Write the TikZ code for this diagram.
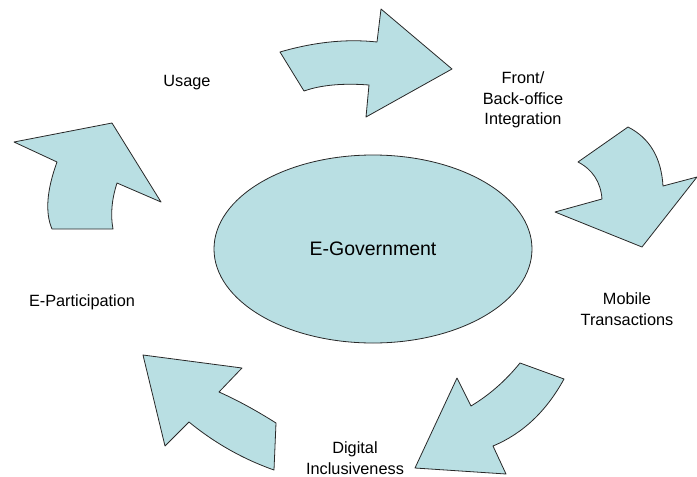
\documentclass[tikz,border=0pt]{standalone}
\usepackage{fontspec}
\setmainfont{Liberation Sans}
\usetikzlibrary{shapes.geometric}
\definecolor{shapefill}{RGB}{185,223,227}
\definecolor{shapeline}{RGB}{40,40,40}
\tikzset{
  bigarrow/.style={fill=shapefill, draw=shapeline, line width=0.8pt, line join=round},
  label/.style={align=center, font=\fontsize{16.3}{20.5}\selectfont, text=black, inner sep=0pt},
}
\begin{document}
\begin{tikzpicture}[x=1pt,y=-1pt]
\useasboundingbox (0,0) rectangle (697,477);
% central ellipse
\node[ellipse, fill=shapefill, draw=shapeline, line width=0.8pt,
      minimum width=318pt, minimum height=188pt, inner sep=0pt,
      font=\fontsize{19.5}{23}\selectfont] (center) at (373,249) {E-Government};
% Usage arrow (up-right)
\draw[bigarrow] (14,142) -- (112,123) -- (161,202) -- (117,183)
  .. controls (111.67,199.67) and (110.33,215) .. (113,229) -- (52,229)
  .. controls (45,212.67) and (46.67,190.33) .. (57,162) -- cycle;
% top arrow (right)
\draw[bigarrow] (280,52) .. controls (314.33,42) and (346.67,38.67) .. (377,42)
  -- (381,9) -- (452,69) -- (366,117) -- (369,85)
  .. controls (342.67,83) and (321,85) .. (304,91) -- cycle;
% right arrow (down)
\draw[bigarrow] (628,127) .. controls (649.67,138) and (661.33,157.67) .. (663,186)
  -- (697,177) -- (642,247) -- (555,212) -- (602,199)
  .. controls (600.67,182) and (592.67,169.67) .. (578,162) -- cycle;
% bottom-right arrow (down-left)
\draw[bigarrow] (520,363) -- (564,379)
  .. controls (546.33,411.33) and (522.67,433.67) .. (493,446)
  -- (506,474) -- (415,468) -- (457,378) -- (471,406)
  .. controls (489.33,395) and (505.67,380.67) .. (520,363) -- cycle;
% bottom-left arrow (up-left)
\draw[bigarrow] (143,355) -- (242,368) -- (219,392)
  .. controls (237,400) and (256,410.33) .. (276,423)
  -- (274,470) .. controls (243.67,459.33) and (215,443.33) .. (189,422)
  -- (165,446) -- cycle;
% labels
\node[label] (usage) at (187,83) {Usage};
\node[label] (front) at (523,100) {Front/\\Back-office\\Integration};
\node[label] (mobile) at (627,309) {Mobile\\Transactions};
\node[label] (digital) at (355,458) {Digital\\Inclusiveness};
\node[label] (epart) at (82,302) {E-Participation};
\end{tikzpicture}
\end{document}
